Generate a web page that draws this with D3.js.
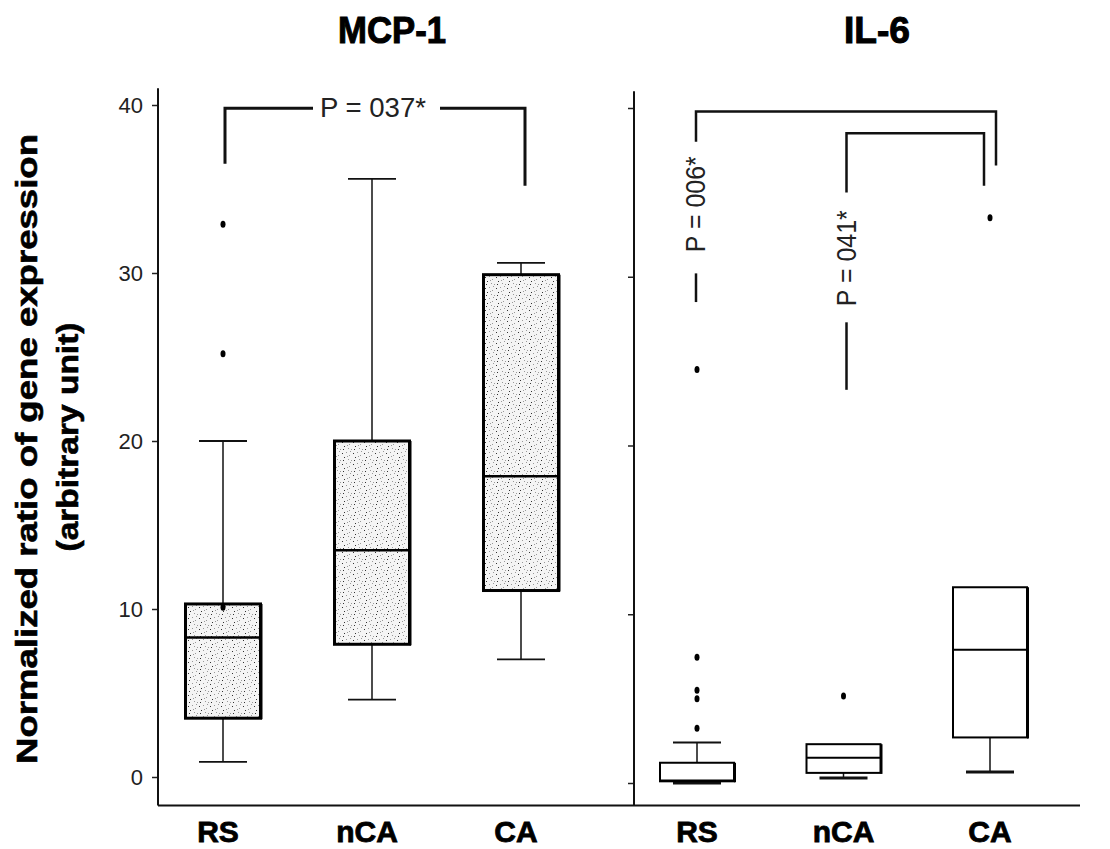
<!DOCTYPE html>
<html lang="en">
<head>
    <meta charset="UTF-8">
    <title>MCP-1 / IL-6 box plots</title>
    <style>
        body { margin: 0; background: #fff; }
        svg { display: block; }
        .tick text { font-family: "Liberation Sans Narrow", "Liberation Sans", Arial, sans-serif; font-size: 22px; fill: #222; }
        .ptext { font-family: "Liberation Sans Narrow", "Liberation Sans", Arial, sans-serif; font-size: 27px; fill: #222; }
        .heavy { font-family: "Liberation Sans", Arial, sans-serif; font-weight: bold; fill: #000; stroke: #000; }
    </style>
</head>
<body>
    <svg id="chart" width="1110" height="849"></svg>

    <script src="https://d3js.org/d3.v7.min.js"></script>
    <script>
        // ---- data ----
        const groups = ["RS", "nCA", "CA"];
        const yTicks = [0, 10, 20, 30, 40];

        // MCP-1
        const mcpLow  = [0.9, 4.6, 7.0];
        const mcpQ1   = [3.5, 7.9, 11.1];
        const mcpMed  = [8.3, 13.5, 17.9];
        const mcpQ3   = [10.3, 20.0, 29.9];
        const mcpHigh = [20.0, 35.6, 30.6];
        const mcpOutliers = [[10.1, 25.2, 32.9], [], []];

        // IL-6
        const il6Low  = [0.0, 0.3, 0.65];
        const il6Q1   = [0.1, 0.6, 2.7];
        const il6Med  = [0.15, 1.5, 7.9];
        const il6Q3   = [1.2, 2.3, 11.6];
        const il6High = [2.4, 2.3, 11.6];
        const il6Outliers = [[3.25, 5.0, 5.5, 7.45, 24.5], [5.15], [33.5]];

        // significance brackets: [from, to, top, leftLegEnd, rightLegEnd, label, labelAt, lowerSegTop, lowerSegBottom]
        const mcpBrackets = [
            ["RS", "CA", 39.8, 36.5, 35.2, "P = 037*"]
        ];
        const il6Brackets = [
            ["RS", "CA", 39.8, 38.0, 36.6, "P = 006*", 34.3, 30.2, 28.5],
            ["nCA", "CA", 38.5, 35.0, 35.4, "P = 041*", 31.1, 27.3, 23.3]
        ];

        const titles = ["MCP-1", "IL-6"];
        const yLabel1 = "Normalized ratio of gene expression";
        const yLabel2 = "(arbitrary unit)";

        // ---- layout ----
        const svg = d3.select("#chart");
        const frameMin = -1.7, frameMax = 41;

        const yL = d3.scaleLinear().domain([0, 40]).range([777, 105]);
        const yR = d3.scaleLinear().domain([0, 40]).range([783, 108]);
        const xL = d3.scalePoint().domain(groups).range([223, 521]);
        const xR = d3.scalePoint().domain(groups).range([697, 990]);

        const leftAxisX = 158, rightAxisX = 634, baseY = 805.5, rightEnd = 1080;

        // stipple pattern for the MCP-1 boxes
        const defs = svg.append("defs");
        const pat = defs.append("pattern")
            .attr("id", "stipple").attr("patternUnits", "userSpaceOnUse")
            .attr("width", 11).attr("height", 11);
        pat.append("rect").attr("width", 11).attr("height", 11).attr("fill", "#f4f4f4");
        [[1,2],[5,1],[8,4],[3,6],[7,8],[10,9],[2,9],[6,5],[9,0]].forEach((d, i) => {
            pat.append("rect").attr("x", d[0]).attr("y", d[1])
                .attr("width", 1).attr("height", 1)
                .attr("fill", i % 3 === 0 ? "#333" : "#999");
        });

        // titles
        svg.append("text").attr("class", "heavy")
            .attr("x", 392).attr("y", 43).attr("text-anchor", "middle")
            .attr("font-size", 36).attr("stroke-width", 1)
            .attr("textLength", 108).attr("lengthAdjust", "spacingAndGlyphs")
            .text(titles[0]);
        svg.append("text").attr("class", "heavy")
            .attr("x", 877).attr("y", 43).attr("text-anchor", "middle")
            .attr("font-size", 36).attr("stroke-width", 1)
            .attr("textLength", 66).attr("lengthAdjust", "spacingAndGlyphs")
            .text(titles[1]);

        // y axis title
        svg.append("text").attr("class", "heavy")
            .attr("transform", "translate(37,449) rotate(-90)")
            .attr("text-anchor", "middle").attr("font-size", 29).attr("stroke-width", 0.6)
            .attr("textLength", 630).attr("lengthAdjust", "spacingAndGlyphs")
            .text(yLabel1);
        svg.append("text").attr("class", "heavy")
            .attr("transform", "translate(78,437) rotate(-90)")
            .attr("text-anchor", "middle").attr("font-size", 29).attr("stroke-width", 0.6)
            .attr("textLength", 229).attr("lengthAdjust", "spacingAndGlyphs")
            .text(yLabel2);

        // axes
        const gL = svg.append("g").attr("transform", `translate(${leftAxisX},0)`)
            .call(d3.axisLeft(yL).tickValues(yTicks).tickSize(6).tickPadding(9));
        const gR = svg.append("g").attr("transform", `translate(${rightAxisX},0)`)
            .call(d3.axisLeft(yR).tickValues(yTicks).tickSize(6).tickFormat(""));
        [gL, gR].forEach(g => {
            g.select(".domain").remove();
            g.selectAll(".tick line").attr("stroke", "#222").attr("stroke-width", 1.5);
        });

        svg.append("line")
            .attr("x1", leftAxisX).attr("x2", leftAxisX)
            .attr("y1", yL(frameMax)).attr("y2", baseY)
            .attr("stroke", "#111").attr("stroke-width", 2);
        svg.append("line")
            .attr("x1", rightAxisX).attr("x2", rightAxisX)
            .attr("y1", yR(frameMax)).attr("y2", baseY)
            .attr("stroke", "#111").attr("stroke-width", 2);
        svg.append("line")
            .attr("x1", leftAxisX).attr("x2", rightEnd)
            .attr("y1", baseY).attr("y2", baseY)
            .attr("stroke", "#111").attr("stroke-width", 2);

        // box plots
        function drawBoxes(x, y, low, q1, med, q3, high, outs, opt) {
            const g = svg.append("g");
            groups.forEach((name, i) => {
                const cx = x(name);
                const hw = opt.boxW / 2, cw = opt.capW / 2;
                // whiskers
                if (high[i] > q3[i]) {
                    g.append("line").attr("x1", cx).attr("x2", cx)
                        .attr("y1", y(q3[i])).attr("y2", y(high[i]))
                        .attr("stroke", "#111").attr("stroke-width", 1.5);
                    g.append("line").attr("x1", cx - cw).attr("x2", cx + cw)
                        .attr("y1", y(high[i])).attr("y2", y(high[i]))
                        .attr("stroke", "#111").attr("stroke-width", 1.8);
                }
                if (low[i] < q1[i]) {
                    g.append("line").attr("x1", cx).attr("x2", cx)
                        .attr("y1", y(q1[i])).attr("y2", y(low[i]))
                        .attr("stroke", "#111").attr("stroke-width", 1.5);
                    g.append("line").attr("x1", cx - cw).attr("x2", cx + cw)
                        .attr("y1", y(low[i])).attr("y2", y(low[i]))
                        .attr("stroke", "#111").attr("stroke-width", opt.lowCapW);
                }
                // box
                g.append("rect")
                    .attr("x", cx - hw).attr("width", opt.boxW)
                    .attr("y", y(q3[i])).attr("height", y(q1[i]) - y(q3[i]))
                    .attr("fill", opt.fill).attr("stroke", "#000")
                    .attr("stroke-width", opt.boxStroke);
                // shadow on right edge
                g.append("line").attr("x1", cx + hw + 1).attr("x2", cx + hw + 1)
                    .attr("y1", y(q3[i])).attr("y2", y(q1[i]) + 1)
                    .attr("stroke", "#000").attr("stroke-width", 2);
                // median
                g.append("line").attr("x1", cx - hw).attr("x2", cx + hw)
                    .attr("y1", y(med[i])).attr("y2", y(med[i]))
                    .attr("stroke", "#000").attr("stroke-width", opt.medStroke);
                // outliers
                g.selectAll(null).data(outs[i]).enter().append("ellipse")
                    .attr("cx", cx).attr("cy", d => y(d))
                    .attr("rx", 2.5).attr("ry", 3.5).attr("fill", "#000");
            });
        }

        drawBoxes(xL, yL, mcpLow, mcpQ1, mcpMed, mcpQ3, mcpHigh, mcpOutliers,
            { boxW: 75, capW: 48, fill: "url(#stipple)", boxStroke: 3, medStroke: 2.5, lowCapW: 1.8 });
        drawBoxes(xR, yR, il6Low, il6Q1, il6Med, il6Q3, il6High, il6Outliers,
            { boxW: 74, capW: 48, fill: "#fff", boxStroke: 2, medStroke: 2, lowCapW: 3 });

        // brackets
        function drawBracket(x, y, b, leftOff, rightOff, weight) {
            const x1 = x(b[0]) + leftOff, x2 = x(b[1]) + rightOff;
            const g = svg.append("g").attr("fill", "none").attr("stroke", "#111");
            if (b.length > 6) {
                // vertical label, leg split around it
                g.append("path")
                    .attr("d", `M${x1},${y(b[3])}V${y(b[2])}H${x2}V${y(b[4])}`)
                    .attr("stroke-width", weight);
                g.append("line").attr("x1", x1).attr("x2", x1)
                    .attr("y1", y(b[7])).attr("y2", y(b[8]))
                    .attr("stroke-width", weight);
                svg.append("text").attr("class", "ptext")
                    .attr("transform", `translate(${x1 + 9},${y(b[6])}) rotate(-90)`)
                    .attr("text-anchor", "middle")
                    .attr("textLength", 96).attr("lengthAdjust", "spacingAndGlyphs")
                    .text(b[5]);
            } else {
                // horizontal label in a gap of the top line
                const xm = (x1 + x2) / 2;
                g.append("path")
                    .attr("d", `M${x1},${y(b[3])}V${y(b[2])}H${xm - 62}`)
                    .attr("stroke-width", weight);
                g.append("path")
                    .attr("d", `M${xm + 65},${y(b[2])}H${x2}V${y(b[4])}`)
                    .attr("stroke-width", weight);
                svg.append("text").attr("class", "ptext")
                    .attr("x", xm - 2).attr("y", y(b[2]) + 9)
                    .attr("text-anchor", "middle")
                    .attr("textLength", 106).attr("lengthAdjust", "spacingAndGlyphs")
                    .text(b[5]);
            }
        }

        drawBracket(xL, yL, mcpBrackets[0], 2, 4, 3);
        drawBracket(xR, yR, il6Brackets[0], -1, 6, 2.5);
        drawBracket(xR, yR, il6Brackets[1], 3, -6, 2.5);

        // category labels
        [[xL, -5], [xR, 0]].forEach(([x, off]) => {
            svg.append("g").selectAll("text").data(groups).enter().append("text")
                .attr("class", "heavy")
                .attr("x", d => x(d) + off).attr("y", 842)
                .attr("text-anchor", "middle")
                .attr("font-size", 30).attr("stroke-width", 0.8)
                .text(d => d);
        });
    </script>
</body>
</html>
